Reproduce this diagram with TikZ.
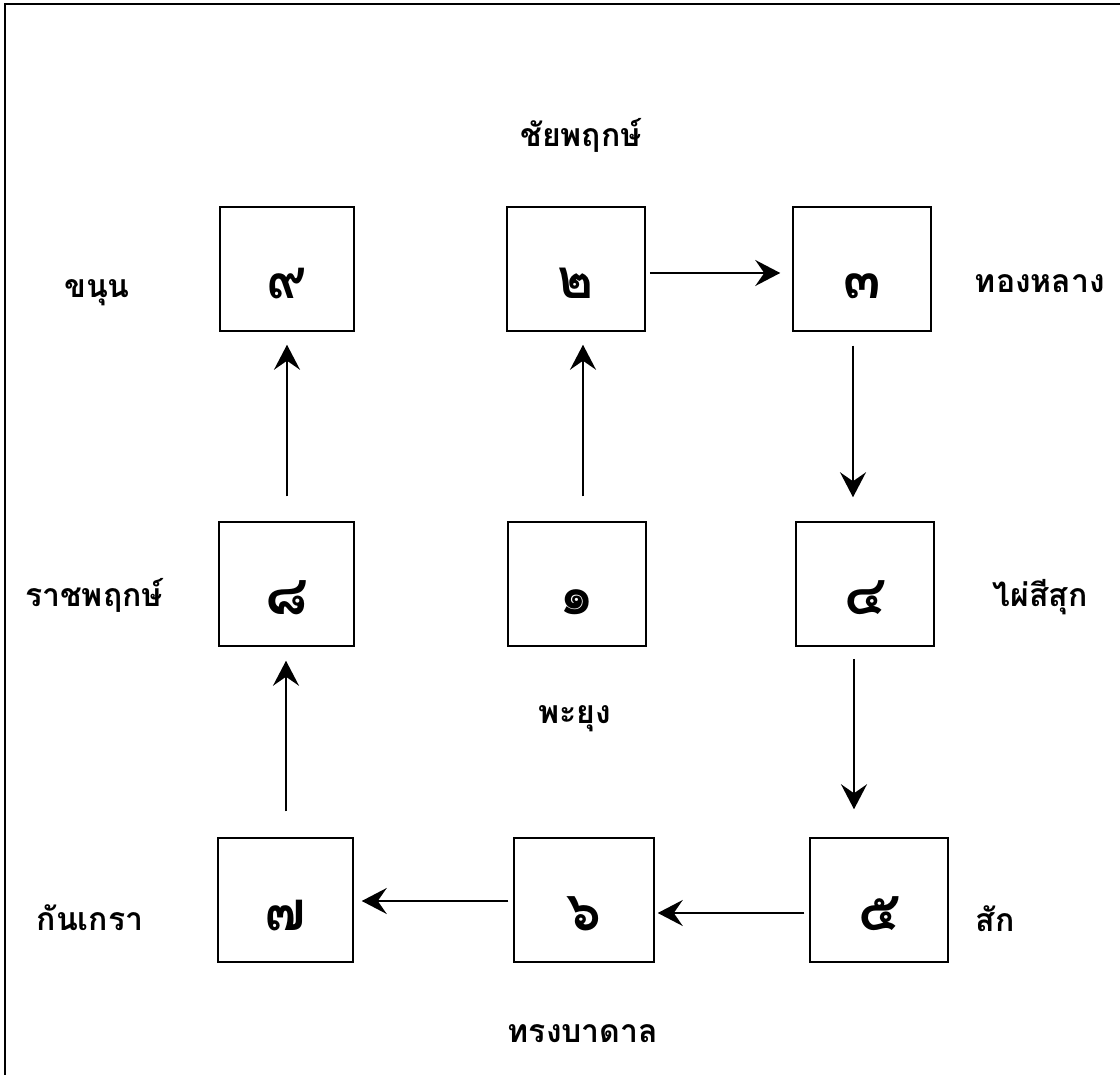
\documentclass[tikz,border=0pt]{standalone}
\usepackage{fontspec}
\newfontfamily\thaifont[Script=Thai]{Loma}
\usetikzlibrary{arrows.meta}
\begin{document}
\begin{tikzpicture}[x=1pt,y=-1pt,
  box/.style={draw, line width=1.5pt, minimum height=124pt, inner sep=0pt,
    text height=60pt, text depth=0pt, font=\thaifont\bfseries\fontsize{55}{55}\selectfont},
  lbl/.style={anchor=base, inner sep=0pt, font=\thaifont\bfseries\fontsize{32}{32}\selectfont},
  arr/.style={line width=2pt, -{Stealth[length=25pt,width=26pt,inset=9pt]}}]
\useasboundingbox (0,0) rectangle (1120,1075);
\clip (0,0) rectangle (1120,1075);
\draw[line width=1.5pt] (5,4) rectangle (1140,1095);
% boxes
\node[box, minimum width=134pt] (n9) at (287,269) {๙};
\node[box, minimum width=138pt] (n2) at (576,269) {๒};
\node[box, minimum width=138pt] (n3) at (862,269) {๓};
\node[box, minimum width=135pt] (n8) at (286.5,584) {๘};
\node[box, minimum width=138pt] (n1) at (577,584) {๑};
\node[box, minimum width=138pt] (n4) at (865,584) {๔};
\node[box, minimum width=135pt] (n7) at (285.5,900) {๗};
\node[box, minimum width=140pt] (n6) at (584,900) {๖};
\node[box, minimum width=138pt] (n5) at (879,900) {๕};
% labels
\node[lbl] (l2) at (581,147) {ชัยพฤกษ์};
\node[lbl] (l9) at (97,298) {ขนุน};
\node[lbl] (l3) at (1040,293) {ทองหลาง};
\node[lbl] (l8) at (94,606) {ราชพฤกษ์};
\node[lbl] (l4) at (1040,606) {ไผ่สีสุก};
\node[lbl] (l1) at (575,723) {พะยุง};
\node[lbl] (l7) at (90,930) {กันเกรา};
\node[lbl] (l5) at (995,931) {สัก};
\node[lbl] (l6) at (583,1042) {ทรงบาดาล};
% arrows
\draw[arr] ([shift={(6,-25)}]n1.north) -- ([shift={(7,13)}]n2.south);
\draw[arr] ([shift={(0.5,-25)}]n8.north) -- ([shift={(0,13)}]n9.south);
\draw[arr] ([shift={(0.5,-26)}]n7.north) -- ([shift={(-0.5,14)}]n8.south);
\draw[arr] ([shift={(-9,14)}]n3.south) -- ([shift={(-12,-24)}]n4.north);
\draw[arr] ([shift={(-11,12)}]n4.south) -- ([shift={(-25,-28)}]n5.north);
\draw[arr] ([shift={(4,4)}]n2.east) -- ([shift={(-12,4)}]n3.west);
\draw[arr] ([shift={(-5,13)}]n5.west) -- ([shift={(3,13)}]n6.east);
\draw[arr] ([shift={(-5,1)}]n6.west) -- ([shift={(8,1)}]n7.east);
\end{tikzpicture}
\end{document}
